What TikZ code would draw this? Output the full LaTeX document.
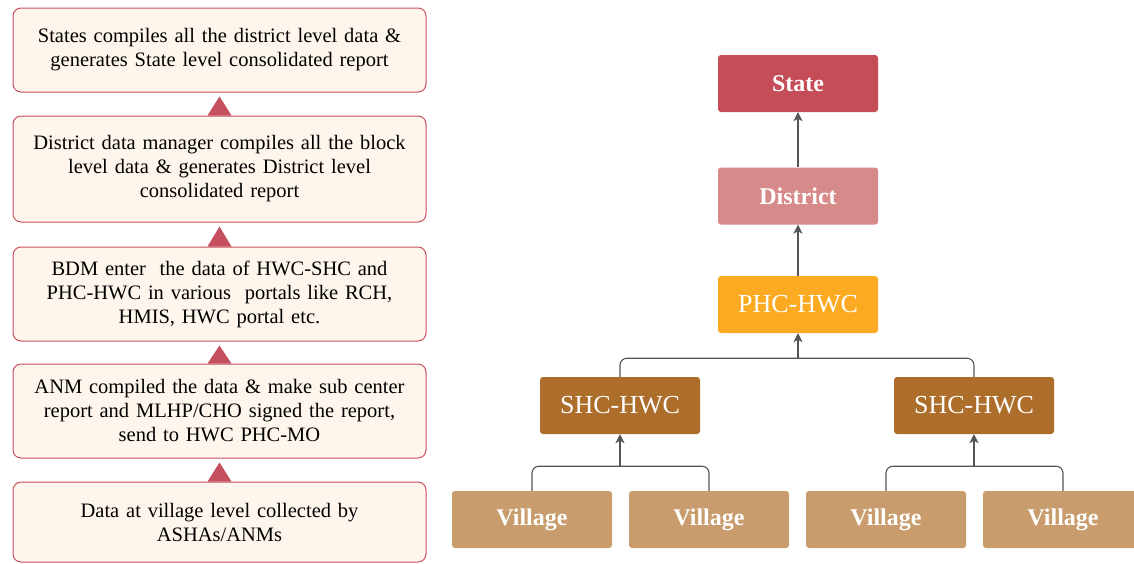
\documentclass[tikz,border=0pt]{standalone}
\usepackage{fontspec}
\setmainfont{Liberation Serif}
\usetikzlibrary{arrows.meta,calc}
\definecolor{lfill}{HTML}{FEF6EC}
\definecolor{lborder}{HTML}{C9505E}
\definecolor{tri}{HTML}{C44F5E}
\definecolor{cstate}{HTML}{C44D58}
\definecolor{cdist}{HTML}{D68A89}
\definecolor{cphc}{HTML}{FBAA22}
\definecolor{cshc}{HTML}{AD6E2B}
\definecolor{cvil}{HTML}{C89C6C}
\definecolor{cline}{HTML}{555555}
\tikzset{
  lbox/.style={draw=lborder, fill=lfill, line width=1pt, rounded corners=8pt,
    minimum width=413pt, text width=405pt, align=center, inner sep=0pt,
    font=\fontsize{20.5}{24}\selectfont},
  rbox/.style={rounded corners=3pt, minimum width=160pt, minimum height=57pt,
    inner sep=0pt, text=white, font=\fontsize{26}{28}\selectfont},
  bbox/.style={rbox, font=\fontsize{24}{26}\selectfont\bfseries},
  conn/.style={draw=cline, line width=1.1pt},
  arr/.style={conn, -{Stealth[length=9pt,width=9pt,inset=2.5pt]}},
  trishape/.style={fill=tri}
}
\begin{document}
\begin{tikzpicture}[x=1pt,y=-1pt]
\clip (0,0) rectangle (1134,563);
\fill[white] (0,0) rectangle (1134,563);
% left column
\node[lbox, minimum height=84pt] (b1) at (219.5,50) {States compiles all the district level data \&\\generates State level consolidated report};
\node[lbox, minimum height=106pt] (b2) at (219.5,169) {District data manager compiles all the block\\level data \& generates District level\\consolidated report};
\node[lbox, minimum height=94pt] (b3) at (219.5,294) {BDM enter\ \ the data of HWC-SHC and\\PHC-HWC in various\ \ portals like RCH,\\HMIS, HWC portal etc.};
\node[lbox, minimum height=94pt] (b4) at (219.5,411) {ANM compiled the data \& make sub center\\report and MLHP/CHO signed the report,\\send to HWC PHC-MO};
\node[lbox, minimum height=80pt] (b5) at (219.5,522) {Data at village level collected by\\ASHAs/ANMs};
\foreach \lo/\up in {b2/b1,b3/b2,b4/b3,b5/b4}{
  \fill[trishape] ($(\lo.north)+(-12,0)$) -- ($(\lo.north)+(12,0)$) -- ($(\up.south)+(0,4)$) -- cycle;
}
% right tree
\node[bbox, fill=cstate] (st) at (798,83.5) {State};
\node[bbox, fill=cdist] (di) at (798,196) {District};
\node[rbox, fill=cphc] (ph) at (798,304.5) {PHC-HWC};
\node[rbox, fill=cshc] (s1) at (620,405.5) {SHC-HWC};
\node[rbox, fill=cshc] (s2) at (974,405.5) {SHC-HWC};
\node[bbox, fill=cvil] (v1) at (532,519.5) {Village};
\node[bbox, fill=cvil] (v2) at (709,519.5) {Village};
\node[bbox, fill=cvil] (v3) at (886,519.5) {Village};
\node[bbox, fill=cvil] (v4) at (1063,519.5) {Village};
\draw[arr] (di.north) -- (st.south);
\draw[arr] (ph.north) -- (di.south);
\coordinate (jp) at ($(ph.south)+(0,25)$);
\coordinate (j1) at ($(s1.south)+(0,32)$);
\coordinate (j2) at ($(s2.south)+(0,32)$);
\draw[conn, rounded corners=7pt] (s1.north) |- (jp) -| (s2.north);
\draw[arr] (jp) -- (ph.south);
\draw[conn, rounded corners=7pt] (v1.north) |- (j1) -| (v2.north);
\draw[arr] (j1) -- (s1.south);
\draw[conn, rounded corners=7pt] (v3.north) |- (j2) -| (v4.north);
\draw[arr] (j2) -- (s2.south);
\end{tikzpicture}
\end{document}
